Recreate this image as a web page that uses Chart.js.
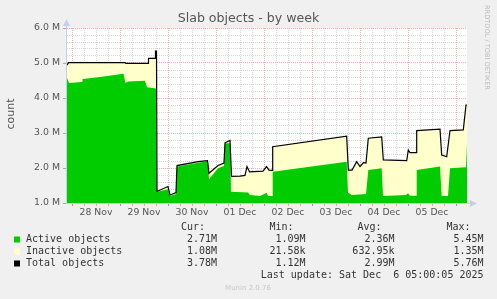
<!DOCTYPE html>
<html>
<head>
<meta charset="utf-8">
<title>Slab objects - by week</title>
<script src="https://cdn.jsdelivr.net/npm/chart.js@4.4.0/dist/chart.umd.min.js"></script>
<style>
body { margin: 0; background: #f0f0f0; }
#wrap { width: 497px; height: 299px; }
</style>
</head>
<body>
<div id="wrap"><canvas id="slab" width="497" height="299"></canvas></div>
<script>
// x = hours since 28 Nov 00:00, y = millions of objects
let totalHours = [-2.5, -1.75, 26.5, 27, 38, 38.25, 41.5, 41.75, 42.25, 42.5, 48, 49, 52, 52.5, 63, 67.75, 68.5, 73, 76, 76.5, 79, 79.75, 84, 86.5, 87.5, 88.75, 95.5, 97.25, 98.5, 100, 100.35, 137.35, 138.15, 140, 142.35, 144, 145.65, 147, 148.15, 154.85, 155.65, 167.35, 168.15, 169, 172, 172.35, 184, 184.85, 187.35, 189, 195.65, 197, 197.5]
let totalValues = [4.94, 5.01, 5.01, 4.99, 4.99, 5.13, 5.13, 5.34, 5.34, 1.33, 1.47, 1.23, 1.30, 2.07, 2.18, 2.21, 1.85, 2.07, 2.14, 2.72, 2.79, 1.76, 1.77, 1.79, 2.04, 1.89, 1.91, 2.04, 1.94, 1.93, 2.61, 2.91, 1.94, 1.94, 2.18, 2.04, 2.15, 2.14, 2.85, 2.89, 2.23, 2.21, 2.51, 2.44, 2.44, 3.07, 3.11, 2.37, 2.32, 3.07, 3.09, 3.80, 3.80]

let activeHours = [-2.5, -1.5, 5, 5.25, 14, 25.75, 26.75, 28, 36.5, 37.5, 42, 42.5, 48, 49, 52, 52.5, 68, 68.5, 73, 76, 76.5, 79, 79.5, 88, 89, 94, 97.35, 98, 100, 100.35, 137.35, 138, 140, 147, 148.15, 154.85, 155.5, 167, 168, 169, 172, 172.35, 184, 184.85, 188, 189, 197, 197.5]
let activeValues = [4.57, 4.43, 4.46, 4.54, 4.60, 4.69, 4.43, 4.47, 4.49, 4.31, 4.27, 1.32, 1.39, 1.20, 1.26, 2.04, 2.20, 1.68, 1.99, 2.06, 2.71, 2.71, 1.32, 1.30, 1.23, 1.20, 1.29, 1.20, 1.20, 1.89, 2.18, 1.29, 1.23, 1.26, 1.94, 1.99, 1.20, 1.23, 1.28, 1.21, 1.21, 1.94, 2.04, 1.20, 1.20, 1.99, 2.02, 2.70]

let dayLabels = ['28 Nov', '29 Nov', '30 Nov', '01 Dec', '02 Dec', '03 Dec', '04 Dec', '05 Dec']
let xTicks = [0, 6, 12, 18, 24, 30, 36, 42, 48, 54, 60, 66, 72, 78, 84, 90, 96, 102, 108, 114, 120, 126, 132, 138, 144, 150, 156, 162, 168, 174, 180, 186, 192]
let yTicks = [1, 1.2, 1.4, 1.6, 1.8, 2, 2.2, 2.4, 2.6, 2.8, 3, 3.2, 3.4, 3.6, 3.8, 4, 4.2, 4.4, 4.6, 4.8, 5, 5.2, 5.4, 5.6, 5.8, 6]

let legendNames = ['Active objects', 'Inactive objects', 'Total objects']
let legendColors = ['#00cc00', '#ffffcc', '#000000']
let legendCur = ['2.71M', '1.08M', '3.78M']
let legendMin = ['1.09M', '21.58k', '1.12M']
let legendAvg = ['2.36M', '632.95k', '2.99M']
let legendMax = ['5.45M', '1.35M', '5.76M']

const RED = 'rgba(235,70,70,0.45)'
const GREY = 'rgba(60,60,60,0.2)'
const AXIS = '#c5cdf2'

function points(hours, values){
    return hours.map((h, i) => ({x: h, y: values[i]}))
}

function isMajor(v){
    return Math.abs(v - Math.round(v)) < 1e-6
}

const munin = {
    id: 'munin',
    beforeDraw(chart) {
        let ctx = chart.ctx, a = chart.chartArea
        ctx.save()
        ctx.fillStyle = '#f0f0f0'
        ctx.fillRect(0, 0, chart.width, chart.height)
        ctx.fillStyle = '#ffffff'
        ctx.fillRect(a.left, a.top, a.right - a.left, a.bottom - a.top)
        ctx.restore()
    },
    afterDraw(chart) {
        let ctx = chart.ctx, a = chart.chartArea
        let xs = chart.scales.x, ys = chart.scales.y
        ctx.save()

        // axes with arrows
        ctx.strokeStyle = AXIS
        ctx.fillStyle = AXIS
        ctx.lineWidth = 1
        ctx.beginPath()
        ctx.moveTo(a.left - 0.5, a.bottom + 0.5)
        ctx.lineTo(a.left - 0.5, a.top - 4)
        ctx.moveTo(a.left - 0.5, a.bottom + 0.5)
        ctx.lineTo(a.right + 5, a.bottom + 0.5)
        ctx.stroke()
        ctx.beginPath()
        ctx.moveTo(a.left - 0.5, a.top - 9)
        ctx.lineTo(a.left - 4, a.top - 2)
        ctx.lineTo(a.left + 3, a.top - 2)
        ctx.fill()
        ctx.beginPath()
        ctx.moveTo(a.right + 10, a.bottom + 0.5)
        ctx.lineTo(a.right + 3, a.bottom - 3)
        ctx.lineTo(a.right + 3, a.bottom + 4)
        ctx.fill()

        // tick marks
        xTicks.forEach(v => {
            let px = Math.round(xs.getPixelForValue(v)) + 0.5
            ctx.strokeStyle = v % 24 === 0 ? 'rgba(240,90,90,0.8)' : 'rgba(90,90,90,0.35)'
            ctx.beginPath()
            ctx.moveTo(px, a.bottom + 1)
            ctx.lineTo(px, a.bottom + 3)
            ctx.stroke()
        })
        yTicks.forEach(v => {
            if (!isMajor(v)) return
            let py = Math.round(ys.getPixelForValue(v)) + 0.5
            ctx.strokeStyle = 'rgba(120,120,120,0.6)'
            ctx.beginPath()
            ctx.moveTo(a.left - 4, py)
            ctx.lineTo(a.left - 1, py)
            ctx.stroke()
        })

        // title
        ctx.fillStyle = '#555'
        ctx.font = '12.6px "DejaVu Sans"'
        ctx.textAlign = 'center'
        ctx.textBaseline = 'middle'
        ctx.fillText('Slab objects - by week', 248.5, 19)

        // y title
        ctx.save()
        ctx.translate(11, 114)
        ctx.rotate(-Math.PI / 2)
        ctx.font = '11px "DejaVu Sans"'
        ctx.fillText('count', 0, 0)
        ctx.restore()

        // rrdtool watermark
        ctx.save()
        ctx.translate(487, 5)
        ctx.rotate(Math.PI / 2)
        ctx.fillStyle = '#bbbbbb'
        ctx.font = '6.6px "DejaVu Sans"'
        ctx.textAlign = 'left'
        ctx.fillText('RRDTOOL / TOBI OETIKER', 0, 0)
        ctx.restore()

        // legend
        ctx.font = '10px "DejaVu Sans Mono"'
        ctx.fillStyle = '#333'
        ctx.textAlign = 'left'
        ctx.fillText('Cur:', 181, 227.5)
        ctx.fillText('Min:', 269.5, 227.5)
        ctx.fillText('Avg:', 357.5, 227.5)
        ctx.fillText('Max:', 446.5, 227.5)
        legendNames.forEach((name, i) => {
            let y = 239.5 + i * 12
            ctx.fillStyle = legendColors[i]
            ctx.fillRect(14, y - 3, 6, 6)
            ctx.fillStyle = '#333'
            ctx.textAlign = 'left'
            ctx.fillText(name, 26, y)
            ctx.textAlign = 'right'
            ctx.fillText(legendCur[i], 217, y)
            ctx.fillText(legendMin[i], 305.5, y)
            ctx.fillText(legendAvg[i], 394.5, y)
            ctx.fillText(legendMax[i], 483.5, y)
        })
        ctx.textAlign = 'right'
        ctx.fillText('Last update: Sat Dec  6 05:00:05 2025', 483.5, 275.5)

        ctx.textAlign = 'center'
        ctx.fillStyle = '#c8c8c8'
        ctx.font = '7px "DejaVu Sans"'
        ctx.fillText('Munin 2.0.76', 248, 288)
        ctx.restore()
    }
}

new Chart(document.getElementById('slab'), {
    type: 'line',
    data: {
        datasets: [
            {
                label: 'Total objects',
                data: points(totalHours, totalValues),
                borderColor: '#000000',
                borderWidth: 1.2,
                pointRadius: 0,
                fill: false,
                order: 1
            },
            {
                label: 'Active objects',
                data: points(activeHours, activeValues),
                borderColor: 'transparent',
                borderWidth: 0,
                backgroundColor: '#00cc00',
                pointRadius: 0,
                fill: 'start',
                order: 2
            },
            {
                // inactive objects fill the band between active and total
                label: 'Inactive objects',
                data: points(totalHours, totalValues),
                borderColor: 'transparent',
                borderWidth: 0,
                backgroundColor: '#ffffcc',
                pointRadius: 0,
                fill: 'start',
                order: 3
            }
        ]
    },
    options: {
        responsive: false,
        animation: false,
        layout: { padding: { left: 0, top: 28, right: 30, bottom: 0 } },
        plugins: {
            legend: { display: false },
            title: { display: false },
            tooltip: { enabled: false }
        },
        scales: {
            x: {
                type: 'linear',
                min: -2.5,
                max: 197.5,
                z: 1,
                afterBuildTicks: s => { s.ticks = xTicks.map(v => ({value: v})) },
                afterFit: s => { s.height = 96 },
                grid: {
                    color: c => (c.tick && c.tick.value % 24 === 0) ? RED : GREY,
                    drawTicks: false
                },
                border: { display: false, dash: [1, 1] },
                ticks: {
                    autoSkip: false,
                    maxRotation: 0,
                    padding: 4,
                    color: '#555',
                    font: { family: 'DejaVu Sans', size: 9.3 },
                    callback: v => v % 24 === 12 ? dayLabels[(v - 12) / 24] : ''
                }
            },
            y: {
                min: 1,
                max: 6,
                z: 1,
                afterBuildTicks: s => { s.ticks = yTicks.map(v => ({value: v})) },
                afterFit: s => { s.width = 67 },
                grid: {
                    color: c => (c.tick && isMajor(c.tick.value)) ? RED : GREY,
                    drawTicks: false
                },
                border: { display: false, dash: [1, 1] },
                ticks: {
                    autoSkip: false,
                    padding: 7,
                    color: '#555',
                    font: { family: 'DejaVu Sans', size: 9.4 },
                    callback: v => isMajor(v) ? v.toFixed(1) + ' M' : ''
                }
            }
        }
    },
    plugins: [munin]
});
</script>
</body>
</html>
